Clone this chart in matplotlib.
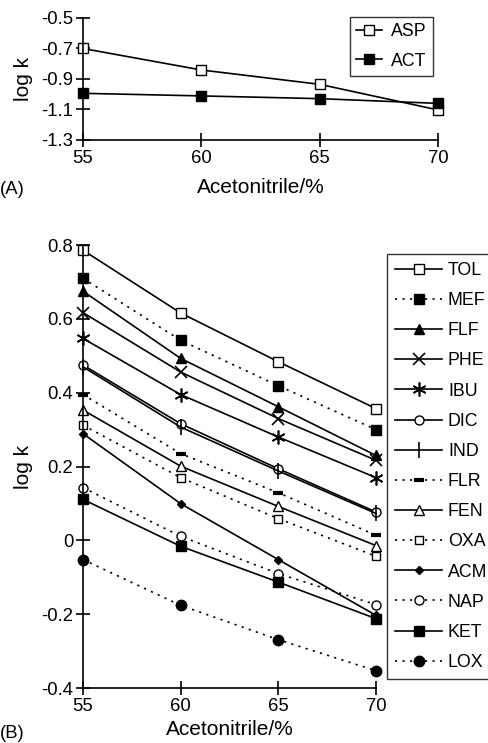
import matplotlib
matplotlib.use("Agg")
import matplotlib.pyplot as plt

plt.rcParams['font.family'] = ['Liberation Sans', 'DejaVu Sans']
plt.rcParams['axes.unicode_minus'] = False

# acetonitrile content (%)
acn = [55, 60, 65, 70]

# panel A
asp = [-0.70, -0.841, -0.935, -1.103]
act = [-0.994, -1.011, -1.029, -1.060]

# panel B, log k for each compound
names_b = ["TOL", "MEF", "FLF", "PHE", "IBU", "DIC", "IND",
           "FLR", "FEN", "OXA", "ACM", "NAP", "KET", "LOX"]
tol = [0.786, 0.616, 0.484, 0.357]
mef = [0.710, 0.542, 0.419, 0.300]
flf = [0.675, 0.493, 0.362, 0.230]
phe = [0.617, 0.456, 0.330, 0.217]
ibu = [0.547, 0.395, 0.280, 0.170]
dic = [0.475, 0.316, 0.194, 0.077]
ind = [0.470, 0.307, 0.188, 0.073]
flr = [0.395, 0.235, 0.129, 0.014]
fen = [0.353, 0.201, 0.092, -0.014]
oxa = [0.312, 0.170, 0.059, -0.043]
acm = [0.289, 0.0995, -0.052, -0.203]
nap = [0.143, 0.011, -0.090, -0.174]
ket = [0.111, -0.016, -0.113, -0.212]
lox = [-0.052, -0.176, -0.269, -0.353]
series_b = [tol, mef, flf, phe, ibu, dic, ind, flr, fen, oxa, acm, nap, ket, lox]

dot = (0, (1.3, 3.2))
styles_b = [
    dict(marker='s', mfc='white', ms=6.5, ls='-'),
    dict(marker='s', mfc='black', ms=6.5, ls=dot),
    dict(marker='^', mfc='black', ms=6.5, ls='-'),
    dict(marker='x', ms=9, mew=1.2, ls='-'),
    dict(marker=(6, 2, 0), ms=10, mew=1.2, ls='-'),
    dict(marker='o', mfc='white', ms=6.5, ls='-'),
    dict(marker='|', ms=11, mew=1.2, ls='-'),
    dict(marker='_', ms=7, mew=3, ls=dot),
    dict(marker='^', mfc='white', ms=6.5, ls='-'),
    dict(marker='s', mfc='white', ms=6, ls=dot),
    dict(marker='D', mfc='black', ms=4.5, ls='-'),
    dict(marker='o', mfc='white', ms=6.5, ls=dot),
    dict(marker='s', mfc='black', ms=7.5, ls='-'),
    dict(marker='o', mfc='black', ms=7.5, ls=dot),
]

tick_fs = 13.3
label_fs = 15
leg_fs = 12.8
fig = plt.figure(figsize=(4.89, 7.43), dpi=100)


def style_axes(ax, ylab_x, xpad):
    for s in ['top', 'right']:
        ax.spines[s].set_visible(False)
    for s in ['left', 'bottom']:
        ax.spines[s].set_linewidth(1.2)
    ax.tick_params(direction='inout', length=10, width=1.2, labelsize=tick_fs, pad=2)
    ax.set_xlim(55, 70)
    ax.set_xticks(acn)
    ax.set_xlabel("Acetonitrile/%", fontsize=label_fs, labelpad=xpad)
    ax.set_ylabel("log k", fontsize=label_fs)
    ax.yaxis.set_label_coords(ylab_x, 0.5)


# ---- panel A ----
axa = fig.add_axes([0.1697, 0.8116, 0.726, 0.1642])
axa.plot(acn, asp, color='black', lw=1.2, marker='s', mfc='white', mec='black', ms=6.5, label="ASP", clip_on=False)
axa.plot(acn, act, color='black', lw=1.2, marker='s', mfc='black', mec='black', ms=6.5, label="ACT", clip_on=False)
style_axes(axa, -50 / 355, 8)
axa.set_ylim(-1.3, -0.5)
yt_a = [-1.3, -1.1, -0.9, -0.7, -0.5]
axa.set_yticks(yt_a)
axa.set_yticklabels([f"{v:.1f}" for v in yt_a])
leg = fig.legend(*axa.get_legend_handles_labels(), loc='upper right',
                 bbox_to_anchor=(433 / 489, 1 - 17 / 743), fontsize=leg_fs, frameon=True,
                 fancybox=False, edgecolor='black', handlelength=1.45, handletextpad=0.5,
                 labelspacing=0.7, borderpad=0.35, borderaxespad=0)
leg.get_frame().set_linewidth(1.0)
fig.text(0.0, 1 - 190 / 743, "(A)", fontsize=tick_fs, va='center')

# ---- panel B ----
axb = fig.add_axes([0.1697, 0.074, 0.599, 0.5962])
for name, vals, st in zip(names_b, series_b, styles_b):
    st = dict(st)
    st.setdefault('mfc', 'black')
    axb.plot(acn, vals, color='black', lw=1.2, mec='black', label=name, clip_on=False, **st)
style_axes(axb, -50 / 293, 4)
axb.set_ylim(-0.4, 0.8)
yt_b = [-0.4, -0.2, 0, 0.2, 0.4, 0.6, 0.8]
axb.set_yticks(yt_b)
axb.set_yticklabels(["0" if v == 0 else f"{v:.1f}" for v in yt_b])
legb = fig.legend(*axb.get_legend_handles_labels(), loc='upper left',
                  bbox_to_anchor=(387 / 489, 1 - 254 / 743), fontsize=leg_fs, frameon=True,
                  fancybox=False, edgecolor='black', handlelength=2.65, handletextpad=0.33,
                  labelspacing=0.74, borderpad=0.45, borderaxespad=0)
legb.get_frame().set_linewidth(1.0)
fig.text(0.0, 1 - 733 / 743, "(B)", fontsize=tick_fs, va='center')

fig.savefig("out.png", dpi=100)
